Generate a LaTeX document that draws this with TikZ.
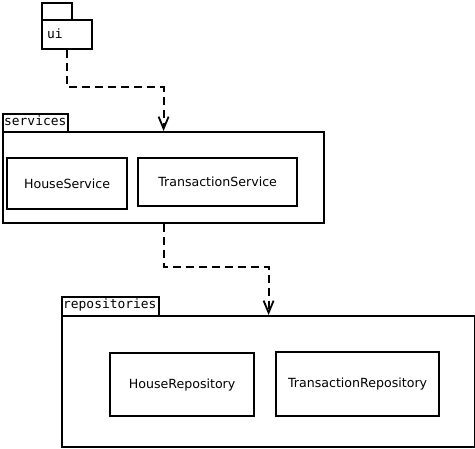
\documentclass[tikz,border=0pt]{standalone}
\usepackage{fontspec}
\setmainfont{DejaVu Sans}
\setmonofont{DejaVu Sans Mono}
\usetikzlibrary{arrows.meta}
\begin{document}
\begin{tikzpicture}[x=1pt,y=-1pt,
  box/.style={draw,line width=2.2pt,inner sep=0pt,anchor=north west},
  cls/.style={box,font=\fontsize{12.6}{14}\selectfont},
  pkglabel/.style={anchor=north west,inner sep=0pt,font=\ttfamily\fontsize{12.9}{14}\selectfont},
  dep/.style={line width=2.2pt,dash pattern=on 8pt off 5pt,
    -{Straight Barb[length=12pt,width=10pt,line width=1.8pt]}}]
\useasboundingbox (0,0) rectangle (475,449);

% package "ui"
\node[box,minimum width=30pt,minimum height=17pt] (uitab) at (41,2) {};
\node[box,minimum width=50pt,minimum height=29pt] (ui) at (41,19) {};
\node[pkglabel] (uilbl) at (47,29) {ui};

% package "services"
\node[box,minimum width=65pt,minimum height=18pt] (svctab) at (2,113) {};
\node[pkglabel] (svclbl) at (4,116) {services};
\node[box,minimum width=321pt,minimum height=91pt] (svc) at (2,131) {};
\node[cls,minimum width=120pt,minimum height=51pt] (hs) at (6,157) {HouseService};
\node[cls,minimum width=159pt,minimum height=48pt] (ts) at (137,157) {TransactionService};

% package "repositories"
\node[box,minimum width=97pt,minimum height=19pt] (repotab) at (61,296) {};
\node[pkglabel] (repolbl) at (63,299) {repositories};
\node[box,minimum width=413pt,minimum height=131pt] (repo) at (61,315) {};
\node[cls,minimum width=144pt,minimum height=63pt] (hr) at (109,352) {HouseRepository};
\node[cls,minimum width=163pt,minimum height=64pt] (tr) at (275,351) {TransactionRepository};

% dependencies
\draw[dep] (ui.south) -- ++(0,37) -| (svc.north);
\draw[dep] (svc.south) -- ++(0,43) -| (repo.north);
\end{tikzpicture}
\end{document}
